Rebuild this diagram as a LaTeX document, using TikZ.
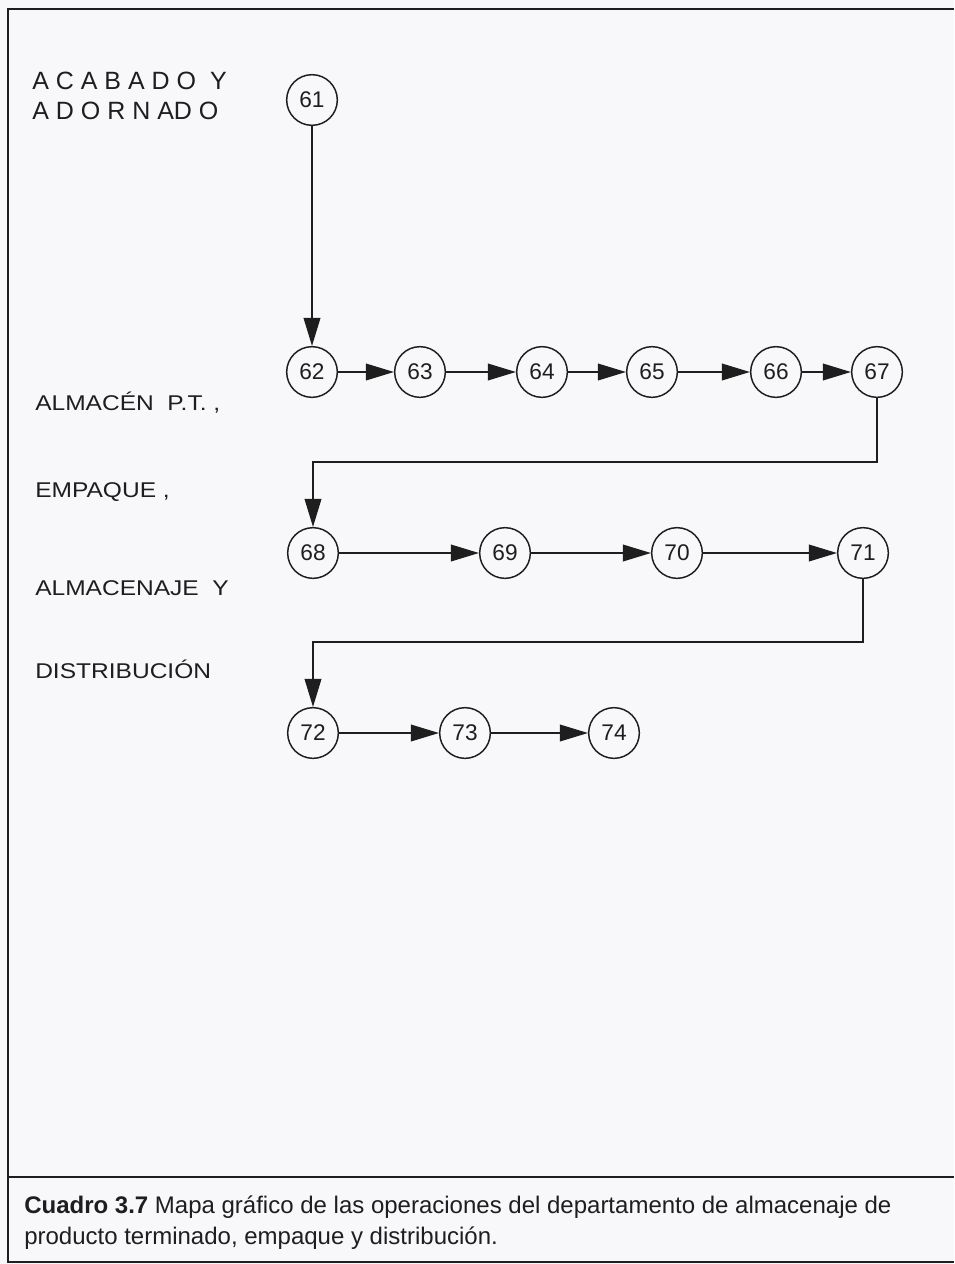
\documentclass[tikz,border=0pt]{standalone}
\usepackage{fontspec}
\setmainfont{Liberation Sans}
\newfontfamily\anchafont{Liberation Sans}[FakeStretch=1.15]
\usetikzlibrary{arrows.meta}

\definecolor{tinta}{RGB}{30,30,30}
\definecolor{papel}{RGB}{248,248,250}

\tikzset{
    paso/.style={circle, draw=tinta, line width=1.1pt, minimum size=38pt,
        inner sep=0pt, text=tinta, font=\fontsize{17}{17}\selectfont},
    flecha/.style={draw=tinta, line width=1.1pt, -{Triangle[length=21pt,width=12.5pt]}},
    etiqueta/.style={anchor=base west, inner sep=0pt, text=tinta,
        font=\anchafont\fontsize{16}{18}\selectfont},
    titulo/.style={anchor=base west, inner sep=0pt, text=tinta,
        font=\fontsize{18.75}{21}\selectfont},
    pie/.style={anchor=base west, inner sep=0pt, text=tinta,
        font=\fontsize{18}{22}\selectfont},
}

\begin{document}
\begin{tikzpicture}[x=0.75pt, y=-0.75pt]
    \fill[papel] (0,0) rectangle (954,1264);
    \useasboundingbox (0,0) rectangle (954,1264);

    % marco y separador del pie
    \draw[tinta, line width=1.5pt] (954,9) -- (8,9) -- (8,1262) -- (954,1262);
    \draw[tinta, line width=1.5pt] (8,1177) -- (954,1177);

    % textos de la izquierda
    \node[titulo] (acabado) at (32,89) {A C A B A D O\ \ Y};
    \node[titulo] (adornado) at (32,119) {A D O R N AD O};
    \node[etiqueta] (almacen) at (35,410) {ALMACÉN\ \ P.T. ,};
    \node[etiqueta] (empaque) at (35,497) {EMPAQUE ,};
    \node[etiqueta] (almacenaje) at (35,595) {ALMACENAJE\ \ Y};
    \node[etiqueta] (distribucion) at (35,678) {DISTRIBUCIÓN};

    % operaciones
    \node[paso] (n61) at (312,100) {61};

    \node[paso] (n62) at (312,372) {62};
    \node[paso] (n63) at (420,372) {63};
    \node[paso] (n64) at (542,372) {64};
    \node[paso] (n65) at (652,372) {65};
    \node[paso] (n66) at (776,372) {66};
    \node[paso] (n67) at (877,372) {67};

    \node[paso] (n68) at (313,553) {68};
    \node[paso] (n69) at (505,553) {69};
    \node[paso] (n70) at (677,553) {70};
    \node[paso] (n71) at (863,553) {71};

    \node[paso] (n72) at (313,733) {72};
    \node[paso] (n73) at (465,733) {73};
    \node[paso] (n74) at (614,733) {74};

    % flechas
    \draw[flecha] (n61) -- (n62);
    \foreach \a/\b in {62/63, 63/64, 64/65, 65/66, 66/67, 68/69, 69/70, 70/71, 72/73, 73/74}
        \draw[flecha] (n\a) -- (n\b);

    % cambios de fila
    \coordinate (giroA) at (877,462);
    \coordinate (giroB) at (313,462);
    \draw[flecha] (n67) -- (giroA) -- (giroB) -- (n68);

    \coordinate (giroC) at (863,642);
    \coordinate (giroD) at (313,642);
    \draw[flecha] (n71) -- (giroC) -- (giroD) -- (n72);

    % pie
    \node[pie] (pie1) at (24,1213) {\textbf{Cuadro 3.7} Mapa gráfico de las operaciones del departamento de almacenaje de};
    \node[pie] (pie2) at (24,1244) {producto terminado, empaque y distribución.};
\end{tikzpicture}
\end{document}
